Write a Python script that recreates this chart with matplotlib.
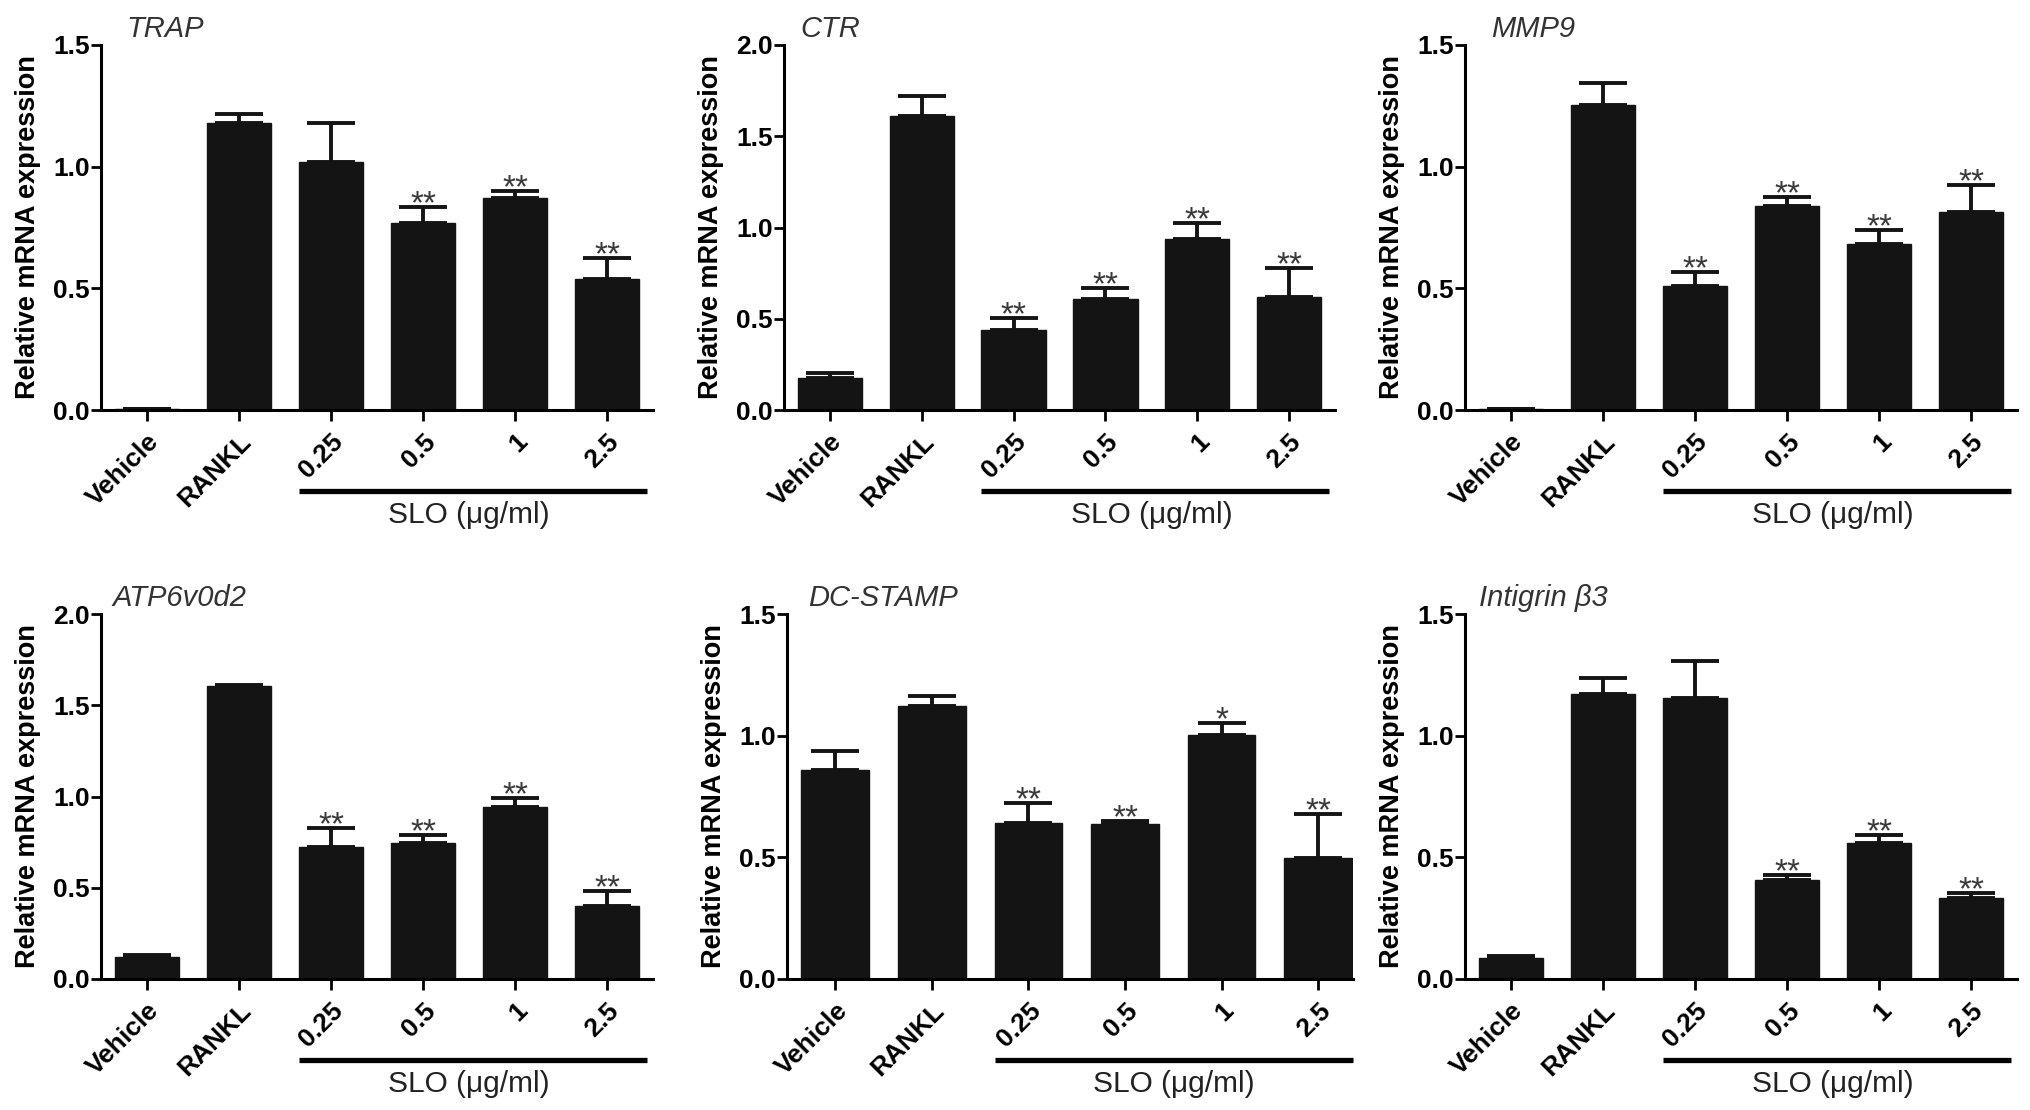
import matplotlib
matplotlib.use("Agg")
import matplotlib.pyplot as plt
import matplotlib.transforms as mtransforms
import numpy as np

plt.rcParams["font.family"] = ["Liberation Sans", "DejaVu Sans"]

# ---------------------------------------------------------------------------
# Data
# ---------------------------------------------------------------------------
GROUPS = ["Vehicle", "RANKL", "0.25", "0.5", "1", "2.5"]
GENES = ["TRAP", "CTR", "MMP9", "ATP6v0d2", "DC-STAMP", "Intigrin β3"]
YMAX = [1.5, 2.0, 1.5, 2.0, 1.5, 1.5]

trap_mean = [0.005, 1.18, 1.02, 0.77, 0.87, 0.54]
trap_err = [0.0, 0.035, 0.16, 0.065, 0.028, 0.085]
trap_sig = ["", "", "", "**", "**", "**"]

ctr_mean = [0.176, 1.61, 0.44, 0.607, 0.935, 0.62]
ctr_err = [0.027, 0.108, 0.066, 0.06, 0.09, 0.157]
ctr_sig = ["", "", "**", "**", "**", "**"]

mmp9_mean = [0.004, 1.254, 0.51, 0.838, 0.684, 0.813]
mmp9_err = [0.0, 0.09, 0.057, 0.038, 0.057, 0.113]
mmp9_sig = ["", "", "**", "**", "**", "**"]

atp_mean = [0.122, 1.607, 0.726, 0.745, 0.945, 0.401]
atp_err = [0.008, 0.006, 0.103, 0.045, 0.046, 0.079]
atp_sig = ["", "", "**", "**", "**", "**"]

dcs_mean = [0.858, 1.12, 0.641, 0.638, 1.003, 0.496]
dcs_err = [0.081, 0.044, 0.082, 0.01, 0.048, 0.181]
dcs_sig = ["", "", "**", "**", "*", "**"]

itg_mean = [0.085, 1.172, 1.156, 0.408, 0.56, 0.333]
itg_err = [0.009, 0.063, 0.149, 0.019, 0.032, 0.021]
itg_sig = ["", "", "", "**", "**", "**"]

MEANS = [trap_mean, ctr_mean, mmp9_mean, atp_mean, dcs_mean, itg_mean]
ERRS = [trap_err, ctr_err, mmp9_err, atp_err, dcs_err, itg_err]
SIGS = [trap_sig, ctr_sig, mmp9_sig, atp_sig, dcs_sig, itg_sig]

# ---------------------------------------------------------------------------
# Layout
# ---------------------------------------------------------------------------
W, H = 2031, 1110
# (left px, right px, axis-bottom px, axis-top px)
BOXES = [
    (101, 653, 410, 45),
    (784, 1335, 410, 45),
    (1465, 2017, 410, 45),
    (101, 653, 979, 614),
    (787, 1353, 979, 614),
    (1465, 2017, 979, 614),
]
XRIGHT = [5.5, 5.5, 5.5, 5.5, 5.36, 5.5]
TITLE_X = [0.046, 0.03, 0.048, 0.02, 0.037, 0.026]

BAR_C = "#141414"
FS_TICK = 19
FS_LABEL = 19.5
FS_TITLE = 21
FS_SLO = 21.5
FS_STAR = 24

fig = plt.figure(figsize=(W / 100, H / 100), dpi=100)

for i in range(6):
    l, r, b, t = BOXES[i]
    ax = fig.add_axes([l / W, 1 - b / H, (r - l) / W, (b - t) / H])
    x = np.arange(len(GROUPS))
    means = np.array(MEANS[i])
    errs = np.array(ERRS[i])

    ax.bar(x, means, width=0.7, color=BAR_C, edgecolor=BAR_C, zorder=2)
    ax.errorbar(x, means, yerr=[np.zeros_like(errs), errs], fmt="none",
                ecolor=BAR_C, elinewidth=2.8, capsize=17, capthick=2.8,
                zorder=1)
    for xi, m, e, s in zip(x, means, errs, SIGS[i]):
        if s:
            ax.annotate(s, xy=(xi, m + e), xytext=(0, -4.5),
                        textcoords="offset points", ha="center",
                        va="baseline", fontsize=FS_STAR, color="#3a3a3a")

    ax.set_xlim(-0.5, XRIGHT[i])
    ax.set_ylim(0, YMAX[i])
    ticks = np.arange(0, YMAX[i] + 0.01, 0.5)
    ax.set_yticks(ticks)
    ax.set_yticklabels([f"{v:.1f}" for v in ticks],
                       fontsize=FS_TICK, fontweight="bold")
    ax.set_xticks(x)
    ax.set_xticklabels(GROUPS, rotation=45, ha="right", rotation_mode="anchor",
                       fontsize=FS_TICK, fontweight="bold")
    ax.tick_params(axis="y", length=7, width=2, pad=1)
    ax.tick_params(axis="x", length=8, width=2, pad=6)
    for side in ("top", "right"):
        ax.spines[side].set_visible(False)
    for side in ("left", "bottom"):
        ax.spines[side].set_linewidth(2.2)
    ax.set_ylabel("Relative mRNA expression", fontsize=FS_LABEL,
                  fontweight="bold", labelpad=9)

    ax.text(TITLE_X[i], 1.045, GENES[i], transform=ax.transAxes,
            fontsize=FS_TITLE, style="italic", color="#333333",
            ha="left", va="center")

    # SLO bracket line + label
    trans = mtransforms.blended_transform_factory(ax.transData, ax.transAxes)
    ax.plot([1.65, min(5.44, XRIGHT[i])], [-0.222, -0.222], transform=trans,
            color="black", lw=3.8, clip_on=False, solid_capstyle="butt")
    ax.text(3.5, -0.287, "SLO (μg/ml)", transform=trans, ha="center",
            va="center", fontsize=FS_SLO, color="#222222")

fig.savefig("out.png", dpi=100)
